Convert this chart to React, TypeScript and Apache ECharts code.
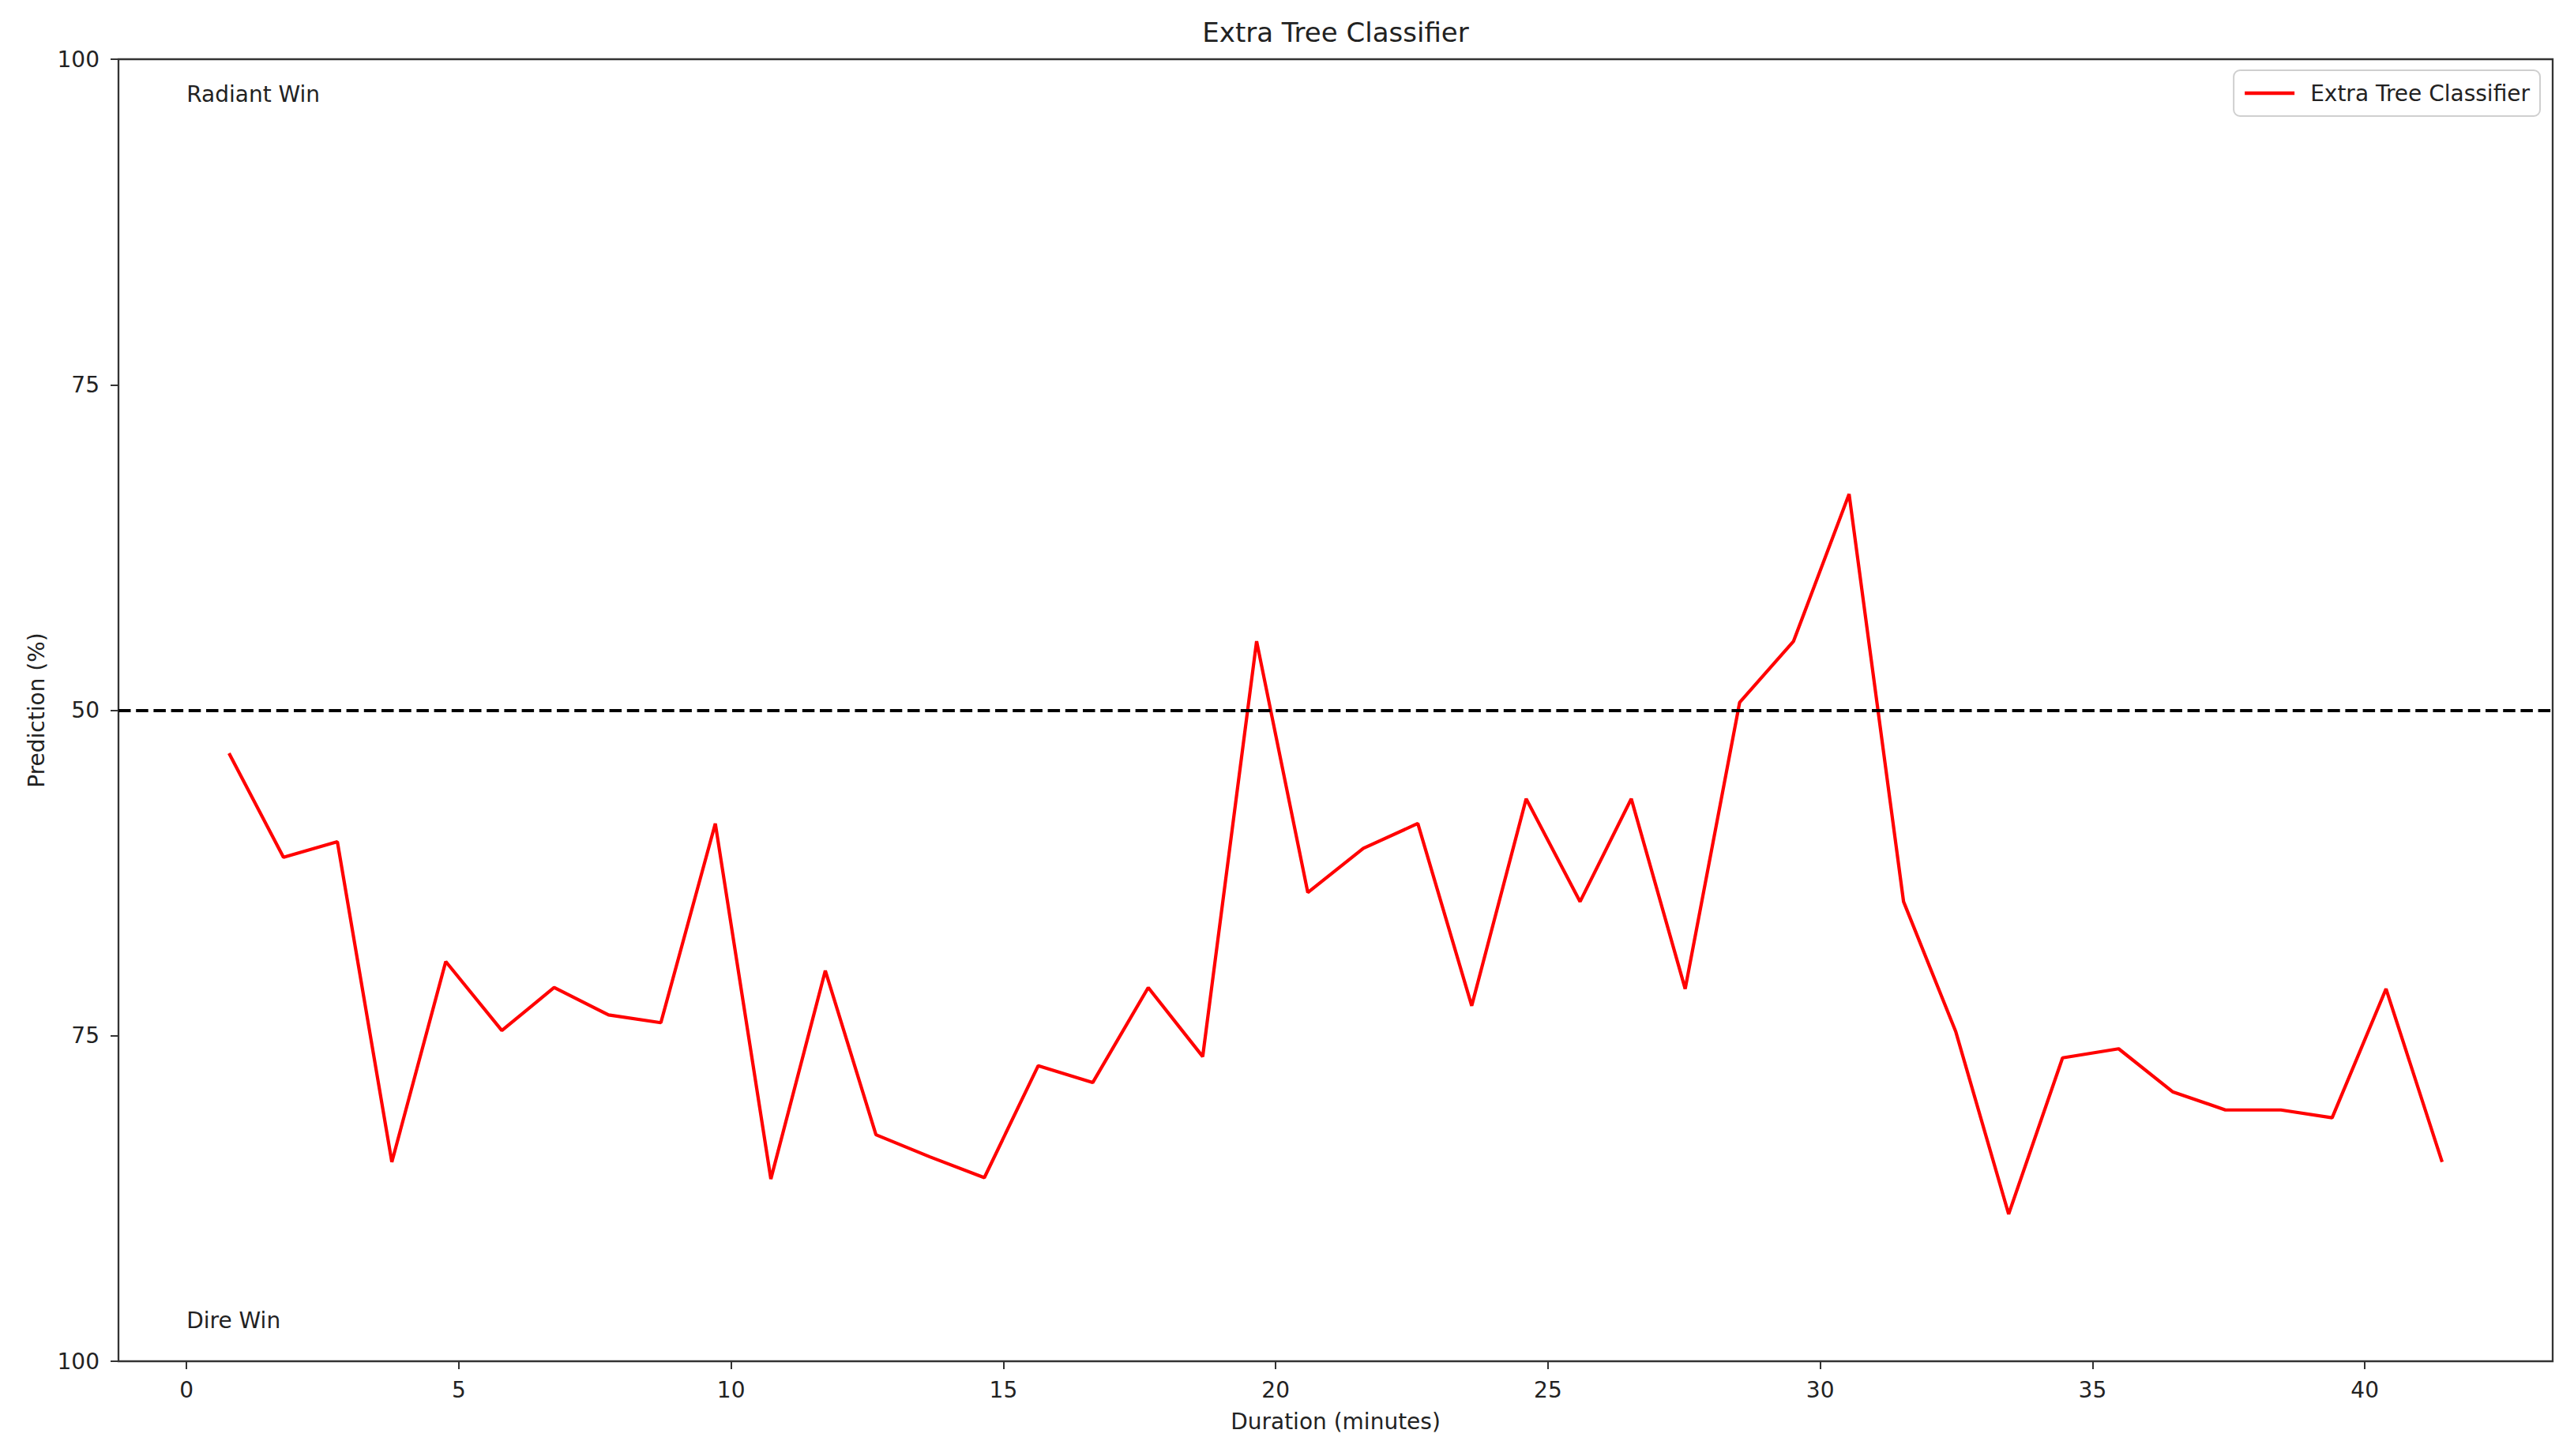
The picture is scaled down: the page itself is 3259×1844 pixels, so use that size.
import React, { useEffect, useRef } from "react";
import * as echarts from "echarts";

// ---- data ----
const durations = [
  0.78, 1.78, 2.77, 3.77, 4.76, 5.79, 6.75, 7.75, 8.71, 9.71,
  10.73, 11.73, 12.66, 13.65, 14.65, 15.64, 16.64, 17.66, 18.66, 19.65,
  20.59, 21.61, 22.61, 23.6, 24.6, 25.59, 26.53, 27.52, 28.52, 29.51,
  30.53, 31.53, 32.49, 33.46, 34.45, 35.48, 36.47, 37.44, 38.46, 39.4,
  40.39, 41.42,
];
const predictions = [
  46.7, 38.7, 39.9, 15.3, 30.7, 25.4, 28.7, 26.6, 26.0, 41.3,
  14.0, 30.0, 17.4, 15.7, 14.1, 22.7, 21.4, 28.7, 23.4, 55.3,
  36.0, 39.4, 41.3, 27.3, 43.2, 35.3, 43.2, 28.6, 50.6, 55.3,
  66.6, 35.3, 25.3, 11.3, 23.3, 24.0, 20.7, 19.3, 19.3, 18.7,
  28.6, 15.3,
];
const seriesName = "Extra Tree Classifier";
const titleText = "Extra Tree Classifier";
const xAxisName = "Duration (minutes)";
const yAxisName = "Prediction (%)";
const xTickValues = [0, 5, 10, 15, 20, 25, 30, 35, 40];
const yTickValues = [0, 25, 50, 75, 100];
const yTickLabels = ["100", "75", "50", "75", "100"];
const thresholdValue = 50;
const annotationLabels = ["Radiant Win", "Dire Win"];
const annotationX = [0, 0];
const annotationY = [97.3, 3.1];
const xMin = -1.25;
const xMax = 43.45;

const FONT = "DejaVu Sans";
const TEXT = "#222";

export default function App() {
  const ref = useRef<HTMLDivElement>(null);

  useEffect(() => {
    if (!ref.current) return;
    const chart = echarts.init(ref.current, null, { renderer: "svg" });

    const lineData = durations.map((d, i) => [d, predictions[i]]);
    const annData = annotationLabels.map((t, i) => [annotationX[i], annotationY[i], t]);

    chart.setOption({
      animation: false,
      backgroundColor: "#ffffff",
      textStyle: { fontFamily: FONT },
      title: {
        text: titleText,
        left: 1691,
        top: 24,
        padding: 0,
        textAlign: "center",
        textStyle: { fontFamily: FONT, fontSize: 34, fontWeight: "normal", color: TEXT },
      },
      legend: {
        data: [seriesName],
        right: 43,
        top: 89,
        padding: [15, 13, 15, 14],
        icon: "rect",
        itemWidth: 63,
        itemHeight: 4.5,
        borderColor: "#cfcfcf",
        borderWidth: 2,
        borderRadius: 8,
        backgroundColor: "rgba(255,255,255,0.8)",
        textStyle: { fontFamily: FONT, fontSize: 28, color: TEXT, padding: [0, 0, 0, 15] },
      },
      grid: {
        left: 150,
        right: 27,
        top: 75,
        bottom: 120,
        show: true,
        borderColor: "#333",
        borderWidth: 2.3,
        backgroundColor: "#fff",
      },
      xAxis: {
        type: "value",
        min: xMin,
        max: xMax,
        name: xAxisName,
        nameLocation: "middle",
        nameGap: 62,
        nameTextStyle: { fontFamily: FONT, fontSize: 28, color: TEXT },
        axisLine: { show: false, onZero: false },
        splitLine: { show: false },
        axisTick: {
          show: true,
          length: 10,
          customValues: xTickValues,
          lineStyle: { color: "#333", width: 2 },
        },
        axisLabel: {
          customValues: xTickValues,
          margin: 22,
          fontFamily: FONT,
          fontSize: 28,
          color: TEXT,
        },
      },
      yAxis: {
        type: "value",
        min: 0,
        max: 100,
        interval: 25,
        name: yAxisName,
        nameLocation: "middle",
        nameGap: 90,
        nameTextStyle: { fontFamily: FONT, fontSize: 28, color: TEXT },
        axisLine: { show: false, onZero: false },
        splitLine: { show: false },
        axisTick: { show: true, length: 10, lineStyle: { color: "#333", width: 2 } },
        axisLabel: {
          margin: 24,
          fontFamily: FONT,
          fontSize: 28,
          color: TEXT,
          formatter: (v: number) => {
            const idx = yTickValues.indexOf(v);
            return idx >= 0 ? yTickLabels[idx] : "";
          },
        },
      },
      series: [
        {
          name: seriesName,
          type: "line",
          data: lineData,
          symbol: "none",
          showSymbol: false,
          lineStyle: { color: "#ff0000", width: 4.2 },
          itemStyle: { color: "#ff0000" },
          z: 3,
          markLine: {
            silent: true,
            symbol: "none",
            label: { show: false },
            lineStyle: { color: "#000", width: 4.2, type: [15.5, 6.7] },
            data: [{ yAxis: thresholdValue }],
          },
        },
        {
          name: "annotations",
          type: "scatter",
          data: annData,
          symbolSize: 0,
          silent: true,
          itemStyle: { opacity: 1 },
          label: {
            show: true,
            position: "right",
            distance: 0,
            formatter: (p: any) => p.data[2],
            fontFamily: FONT,
            fontSize: 28,
            color: TEXT,
          },
        },
      ],
    });

    return () => chart.dispose();
  }, []);

  return (
    <div
      ref={ref}
      style={{ position: "absolute", left: 0, top: 0, width: 3259, height: 1844 }}
    />
  );
}
